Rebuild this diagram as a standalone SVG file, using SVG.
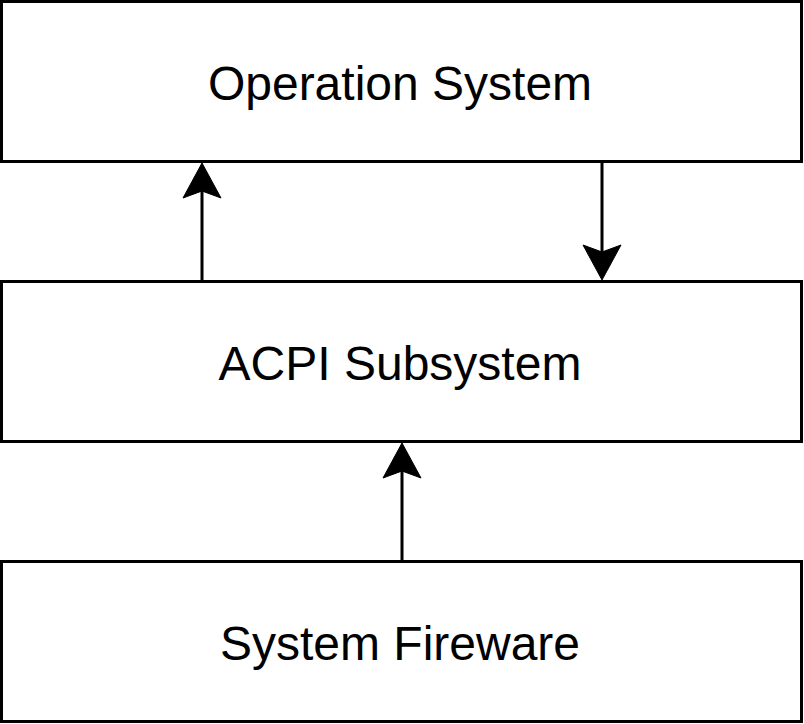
<svg xmlns="http://www.w3.org/2000/svg" width="804" height="724" viewBox="0 0 804 724">
<style>
.box{fill:#ffffff;stroke:#000000;stroke-width:3}
.lbl{font-family:"Liberation Sans",Arial,sans-serif;font-size:48px;fill:#000000;text-anchor:middle}
.ln{stroke:#000000;stroke-width:3;fill:none}
.hd{fill:#000000;stroke:#000000;stroke-width:1}
</style>
<rect width="804" height="724" fill="#ffffff"/>
<g id="node-os">
<rect class="box" x="1.5" y="1.5" width="800" height="160"/>
<text class="lbl" x="400" y="100">Operation System</text>
</g>
<g id="node-acpi">
<rect class="box" x="1.5" y="281.5" width="800" height="160"/>
<text class="lbl" x="400" y="380">ACPI Subsystem</text>
</g>
<g id="node-fw">
<rect class="box" x="1.5" y="561.5" width="800" height="160"/>
<text class="lbl" x="400" y="660">System Fireware</text>
</g>
<g id="connectors">
<line class="ln" x1="202" y1="280" x2="202" y2="190"/>
<path class="hd" d="M202,163 L221,198 L202,191 L183,198 Z"/>
<line class="ln" x1="602" y1="163" x2="602" y2="253"/>
<path class="hd" d="M602,280 L621,245 L602,252 L583,245 Z"/>
<line class="ln" x1="402" y1="560" x2="402" y2="470"/>
<path class="hd" d="M402,443 L421,478 L402,471 L383,478 Z"/>
</g>
</svg>
